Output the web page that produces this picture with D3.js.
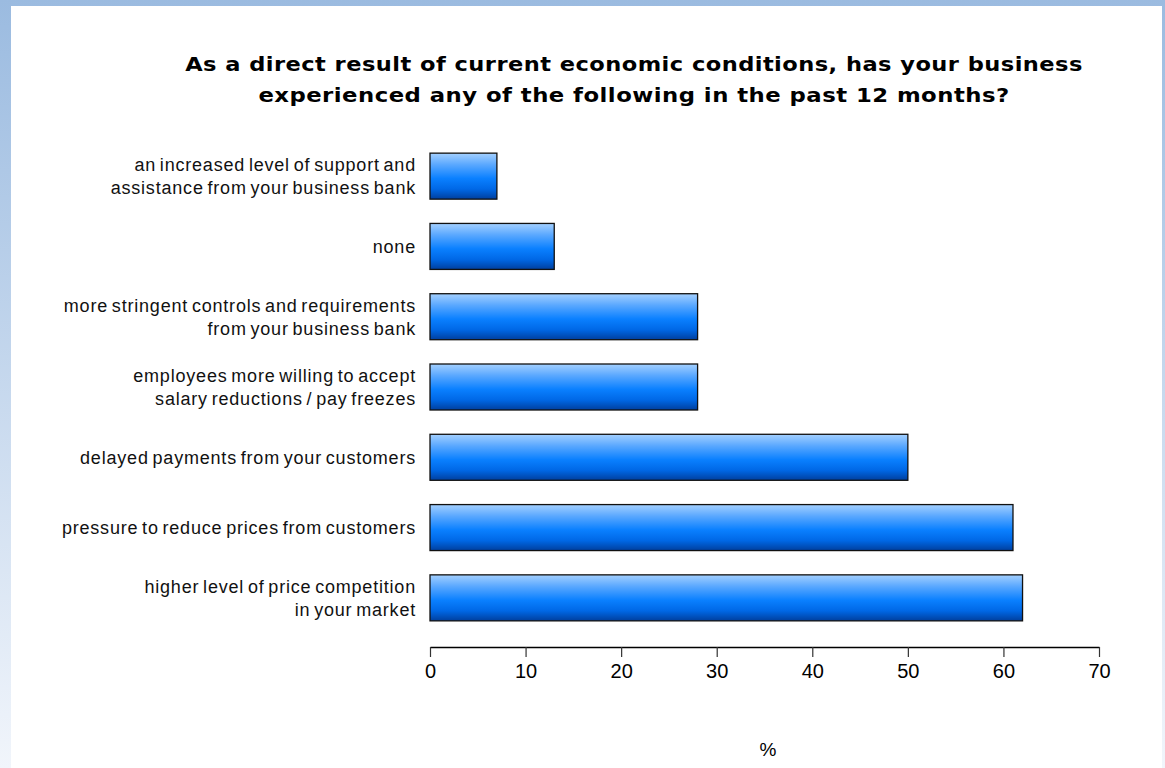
<!DOCTYPE html>
<html>
<head>
<meta charset="utf-8">
<script src="https://cdn.jsdelivr.net/npm/d3@7"></script>
<style>
  html, body { margin: 0; padding: 0; background: #fff; }
  svg { display: block; }
</style>
</head>
<body>
<svg id="chart" width="1165" height="768"></svg>
<script>
// Survey responses, top to bottom
const categories = [
  ["an increased level of support and", "assistance from your business bank"],
  ["none"],
  ["more stringent controls and requirements", "from your business bank"],
  ["employees more willing to accept", "salary reductions / pay freezes"],
  ["delayed payments from your customers"],
  ["pressure to reduce prices from customers"],
  ["higher level of price competition", "in your market"]
];
const values = [7, 13, 28, 28, 50, 61, 62];
const tickValues = [0, 10, 20, 30, 40, 50, 60, 70];
const titleLines = [
  "As a direct result of current economic conditions, has your business",
  "experienced any of the following in the past 12 months?"
];
const axisTitle = "%";

const W = 1165, H = 768;
const svg = d3.select("#chart");
const defs = svg.append("defs");

// Page backdrop: blue frame fading downward, white panel on top
const bg = defs.append("linearGradient").attr("id", "frame")
  .attr("x1", 0).attr("y1", 0).attr("x2", 0).attr("y2", 1);
bg.append("stop").attr("offset", "0%").attr("stop-color", "#9bbbe0");
bg.append("stop").attr("offset", "100%").attr("stop-color", "#f1f5fb");

const barGrad = defs.append("linearGradient").attr("id", "bar")
  .attr("x1", 0).attr("y1", 0).attr("x2", 0).attr("y2", 1);
[["0%", "#a4d0ff"], ["25%", "#5aa8ff"], ["55%", "#0a80ff"], ["78%", "#0068e6"], ["100%", "#003f9e"]]
  .forEach(([o, c]) => barGrad.append("stop").attr("offset", o).attr("stop-color", c));

svg.append("rect").attr("width", W).attr("height", H).attr("fill", "url(#frame)");
svg.append("rect").attr("x", 11).attr("y", 6).attr("width", 1151).attr("height", H - 6).attr("fill", "#fff");

// Scales
const x = d3.scaleLinear().domain([0, 70]).range([430, 1099]);
const y = d3.scaleBand().domain(d3.range(values.length)).range([141, 633])
  .paddingInner(0.3456).paddingOuter(0.1728);

// Title: wide bold face, each line stretched horizontally to its set width
const titleWidths = [898, 752];
const titleCx = 634;
svg.append("g").selectAll("text").data(titleLines).join("text")
  .attr("x", 0).attr("y", 0)
  .attr("text-anchor", "middle")
  .attr("font-family", "DejaVu Sans, Verdana, sans-serif")
  .attr("font-weight", "bold").attr("font-size", 19.5)
  .attr("letter-spacing", "0.4px")
  .attr("fill", "#000")
  .text(d => d)
  .each(function (d, i) {
    const w = this.getComputedTextLength();
    const sx = titleWidths[i] / w;
    d3.select(this).attr("transform", `translate(${titleCx},${71 + i * 31}) scale(${sx},1)`);
  });

// Bars
svg.append("g").selectAll("rect").data(values).join("rect")
  .attr("x", x(0))
  .attr("y", (d, i) => y(i))
  .attr("width", d => x(d) - x(0))
  .attr("height", y.bandwidth())
  .attr("fill", "url(#bar)")
  .attr("stroke", "#111")
  .attr("stroke-width", 1.3);

// Category labels
const labels = svg.append("g")
  .attr("font-family", "Liberation Sans, Arial, sans-serif")
  .attr("font-size", 18).attr("fill", "#111")
  .attr("text-anchor", "end");
categories.forEach((lines, i) => {
  const cy = y(i) + y.bandwidth() / 2;
  const lh = 23;
  const top = cy - (lines.length - 1) * lh / 2;
  lines.forEach((t, j) => {
    labels.append("text")
      .attr("x", 416).attr("y", top + j * lh)
      .attr("dy", "0.35em")
      .attr("letter-spacing", "0.8px")
      .attr("word-spacing", "-2px")
      .text(t);
  });
});

// X axis
const axis = svg.append("g").attr("transform", "translate(0,647)")
  .call(d3.axisBottom(x).tickValues(tickValues).tickSize(10).tickPadding(7).tickSizeOuter(0));
axis.select(".domain").attr("stroke", "#000").attr("stroke-width", 1.6);
axis.selectAll(".tick line").attr("stroke", "#333").attr("stroke-width", 1.2);
axis.selectAll(".tick text")
  .attr("font-family", "Liberation Sans, Arial, sans-serif")
  .attr("font-size", 20).attr("fill", "#000");

svg.append("text")
  .attr("x", 768).attr("y", 756)
  .attr("text-anchor", "middle")
  .attr("font-family", "Liberation Sans, Arial, sans-serif")
  .attr("font-size", 19).attr("fill", "#000")
  .text(axisTitle);
</script>
</body>
</html>
